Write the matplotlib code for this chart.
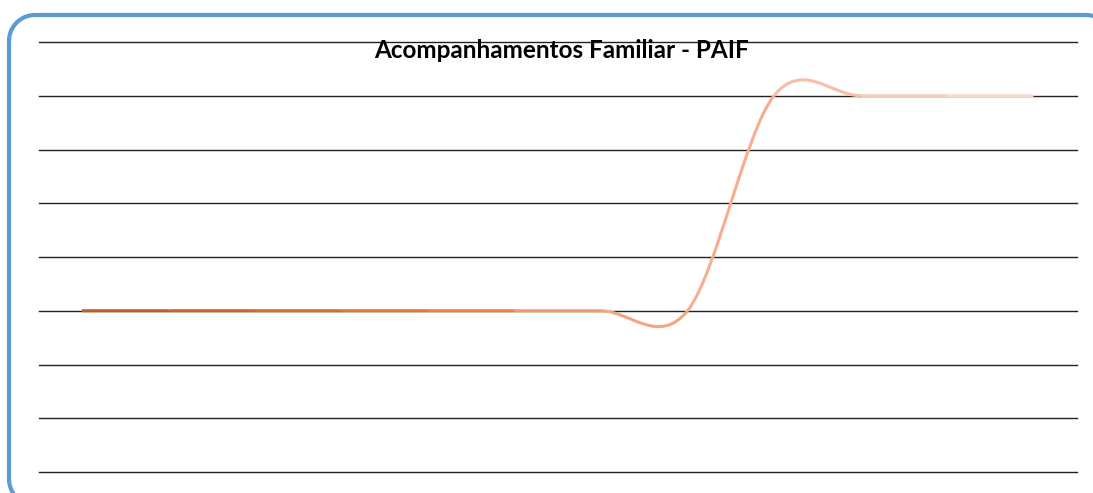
import numpy as np
import matplotlib.pyplot as plt
from matplotlib.path import Path
from matplotlib.patches import PathPatch, Polygon

# monthly values (12 points), y axis 0..8 with hidden labels
months = list(range(12))
values = [3, 3, 3, 3, 3, 3, 3, 3, 7, 7, 7, 7]

# gradient colours used by the line, one per segment
seg_colors = ['#BE5E28', '#C4672C', '#D0702F', '#DD7832', '#EC8139', '#F29A6A',
              '#F4A684', '#F5AE8F', '#F6BDA7', '#F8CDBE', '#F9DACE']

W, H = 1093, 493
fig = plt.figure(figsize=(W / 100, H / 100), dpi=100)

# plot area in pixels
left, right, top, bottom = 38.75, 1076.75, 42, 472
ax = fig.add_axes([left / W, 1 - bottom / H, (right - left) / W, (bottom - top) / H])
ax.set_xlim(-0.5, 11.5)
ax.set_ylim(0, 8)
ax.set_yticks(range(9))
ax.set_xticks([])
ax.tick_params(left=False, labelleft=False)
ax.grid(axis='y', color='#222222', lw=1.0)
for g in ax.get_ygridlines():
    g.set_clip_on(False)
for s in ax.spines.values():
    s.set_visible(False)

# excel style smoothed line: cubic bezier per segment
x = np.array(months, dtype=float)
y = np.array(values, dtype=float)
n = len(x)
for i in range(n - 1):
    p0 = np.array([x[i], y[i]])
    p3 = np.array([x[i + 1], y[i + 1]])
    pm = np.array([x[i - 1], y[i - 1]]) if i > 0 else p0
    pn = np.array([x[i + 2], y[i + 2]]) if i + 2 < n else p3
    p1 = p0 + (p3 - pm) / 6
    p2 = p3 - (pn - p0) / 6
    path = Path([p0, p1, p2, p3], [Path.MOVETO, Path.CURVE4, Path.CURVE4, Path.CURVE4])
    ax.add_patch(PathPatch(path, fill=False, edgecolor=seg_colors[i], lw=2.2,
                           capstyle='butt', zorder=3))

fig.text(562 / W, 1 - 51 / H, 'Acompanhamentos Familiar - PAIF', ha='center', va='center',
         fontsize=17.5, fontweight='bold', family='Lato')

# rounded blue frame in pixel coords (y down), runs off right and bottom
x0, y0, x1, y1, r = 9, 15, 1112, 505, 26
corners = [((x0 + r, y0 + r), 180), ((x1 - r, y0 + r), 270),
           ((x1 - r, y1 - r), 0), ((x0 + r, y1 - r), 90)]
verts = []
for (cx, cy), a0 in corners:
    a = np.radians(np.linspace(a0, a0 + 90, 20))
    for px, py in zip(cx + r * np.cos(a), cy + r * np.sin(a)):
        verts.append((px / W, 1 - py / H))
fig.patches.append(Polygon(verts, closed=True, fill=False, edgecolor='#5B9BD5', lw=3,
                           transform=fig.transFigure, figure=fig, zorder=5))

fig.savefig('out.png', dpi=100)
